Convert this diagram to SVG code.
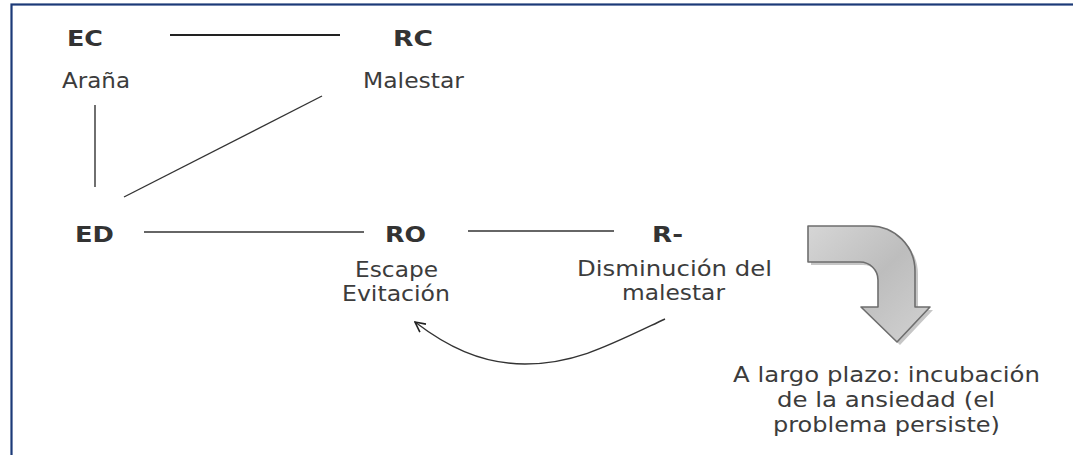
<svg xmlns="http://www.w3.org/2000/svg" width="1073" height="455" viewBox="0 0 1073 455">
<style>
.b{font-family:"DejaVu Sans",Verdana,sans-serif;font-weight:bold;font-size:21px;fill:#333}
.t{font-family:"DejaVu Sans",Verdana,sans-serif;font-size:22px;fill:#3c3c3c}
.c{stroke:#333;fill:none;stroke-width:1.4}
</style>
<defs>
<linearGradient id="g" x1="0" y1="0" x2="1" y2="1">
<stop offset="0" stop-color="#d6d6d6"/>
<stop offset="0.5" stop-color="#bdbdbd"/>
<stop offset="1" stop-color="#d2d2d2"/>
</linearGradient>
<marker id="ah" viewBox="0 0 12 12" refX="11" refY="6" markerWidth="12" markerHeight="12" markerUnits="userSpaceOnUse" orient="auto">
<path d="M1,1 L11,6 L1,11" fill="none" stroke="#222" stroke-width="1.6"/>
</marker>
</defs>
<rect width="1073" height="455" fill="#fff"/>
<rect x="11.5" y="4.5" width="1200" height="600" fill="none" stroke="#1c3a78" stroke-width="2.2"/>
<g id="connectors">
<line x1="170" y1="35" x2="340" y2="35" stroke="#222" stroke-width="2.2"/>
<line class="c" x1="95" y1="105" x2="95" y2="187"/>
<line class="c" x1="124" y1="197" x2="322" y2="96"/>
<line class="c" x1="144" y1="232" x2="364" y2="232"/>
<line class="c" x1="468" y1="231" x2="614" y2="231"/>
<path class="c" d="M665,319 C610,345 575,364 525,364 C480,364 445,345 415,322" stroke="#222" stroke-width="1.8" marker-end="url(#ah)"/>
</g>
<g id="EC"><text class="b" x="67" y="46" textLength="36" lengthAdjust="spacingAndGlyphs">EC</text>
<text class="t" x="62" y="88" textLength="68" lengthAdjust="spacingAndGlyphs">Araña</text></g>
<g id="RC"><text class="b" x="393" y="46" textLength="40" lengthAdjust="spacingAndGlyphs">RC</text>
<text class="t" x="363" y="88" textLength="101" lengthAdjust="spacingAndGlyphs">Malestar</text></g>
<g id="ED"><text class="b" x="75" y="242" textLength="39" lengthAdjust="spacingAndGlyphs">ED</text></g>
<g id="RO"><text class="b" x="385" y="242" textLength="41" lengthAdjust="spacingAndGlyphs">RO</text>
<text class="t" x="355" y="277" textLength="83" lengthAdjust="spacingAndGlyphs">Escape</text>
<text class="t" x="342" y="301" textLength="108" lengthAdjust="spacingAndGlyphs">Evitación</text></g>
<g id="Rneg"><text class="b" x="652" y="242" textLength="31" lengthAdjust="spacingAndGlyphs">R-</text>
<text class="t" x="577" y="276" textLength="195" lengthAdjust="spacingAndGlyphs">Disminución del</text>
<text class="t" x="622" y="300" textLength="103" lengthAdjust="spacingAndGlyphs">malestar</text></g>
<g id="bigarrow">
<path d="M808,226 H870 A45,45 0 0 1 915,271 V307 H930 L897,342 L861,307 H878 V280 A18,18 0 0 0 860,262 H808 Z" transform="translate(3,3)" fill="#a0a0a0" opacity="0.6"/>
<path d="M808,226 H870 A45,45 0 0 1 915,271 V307 H930 L897,342 L861,307 H878 V280 A18,18 0 0 0 860,262 H808 Z" fill="url(#g)" stroke="#6e6e6e" stroke-width="1.6" stroke-linejoin="round"/>
</g>
<g id="result">
<text class="t" x="733" y="382" textLength="307" lengthAdjust="spacingAndGlyphs">A largo plazo: incubación</text>
<text class="t" x="777" y="407" textLength="218" lengthAdjust="spacingAndGlyphs">de la ansiedad (el</text>
<text class="t" x="773" y="432" textLength="227" lengthAdjust="spacingAndGlyphs">problema persiste)</text>
</g>
</svg>
